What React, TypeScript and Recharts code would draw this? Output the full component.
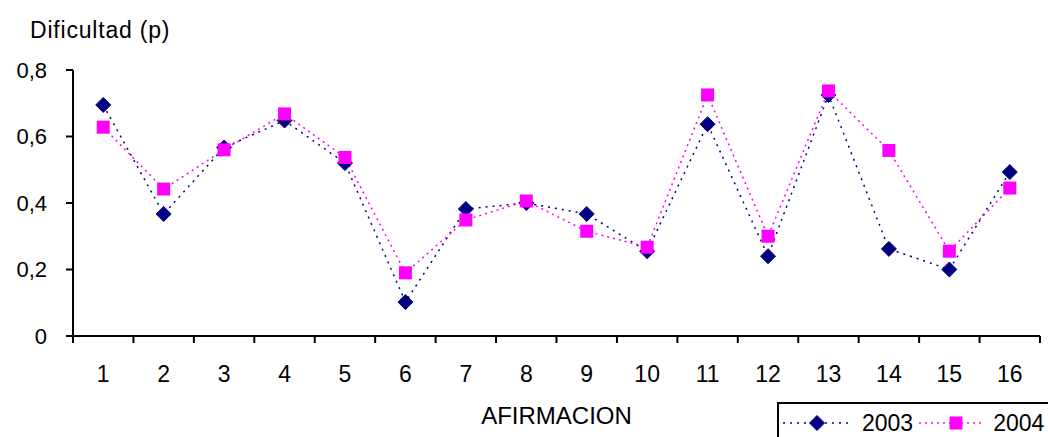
import React from 'react';
import { LineChart, Line, XAxis, YAxis, ReferenceLine } from 'recharts';

const categories = [1, 2, 3, 4, 5, 6, 7, 8, 9, 10, 11, 12, 13, 14, 15, 16];
const values2003 = [0.695, 0.367, 0.567, 0.648, 0.52, 0.102, 0.382, 0.4, 0.367, 0.255, 0.637, 0.24, 0.725, 0.262, 0.2, 0.493];
const values2004 = [0.628, 0.442, 0.56, 0.668, 0.537, 0.19, 0.349, 0.406, 0.315, 0.267, 0.725, 0.3, 0.737, 0.558, 0.255, 0.445];
const yTicks = [0, 0.2, 0.4, 0.6, 0.8];
const boundaryTicks = [0.5, 1.5, 2.5, 3.5, 4.5, 5.5, 6.5, 7.5, 8.5, 9.5, 10.5, 11.5, 12.5, 13.5, 14.5, 15.5, 16.5];
const seriesNames = ['2003', '2004'];
const yTitle = 'Dificultad (p)';
const xTitle = 'AFIRMACION';

const data = categories.map((c, i) => ({ cat: c, s2003: values2003[i], s2004: values2004[i] }));

const NAVY = '#000080';
const PINK = '#ff00ff';
const FONT = '"Liberation Sans", Arial, sans-serif';

const Diamond = (props: any) => {
  const { cx, cy } = props;
  if (cx == null || cy == null) return null;
  const r = 7.5;
  return <path d={`M${cx},${cy - r}L${cx + r},${cy}L${cx},${cy + r}L${cx - r},${cy}Z`} fill={NAVY} stroke={NAVY} strokeWidth={1} />;
};

const Square = (props: any) => {
  const { cx, cy } = props;
  if (cx == null || cy == null) return null;
  const h = 6.5;
  return <rect x={cx - h} y={cy - h} width={2 * h} height={2 * h} fill={PINK} />;
};

const fmt = (v: number) => (v === 0 ? '0' : v.toFixed(1).replace('.', ','));

const XTick = (props: any) => {
  const { x, y, payload, width } = props;
  const step = width / categories.length;
  const v = payload.value;
  const label = v + 0.5;
  const hasLabel = categories.indexOf(label) >= 0;
  return (
    <g>
      <line x1={x} y1={y} x2={x} y2={y + 7} stroke="#000" strokeWidth={2} />
      {hasLabel && (
        <text x={x + step / 2} y={y + 46} textAnchor="middle" fontFamily={FONT} fontSize={23} fill="#000">
          {label}
        </text>
      )}
    </g>
  );
};

const LegendBox = () => (
  <div style={{ position: 'absolute', left: 777, top: 402, border: '2px solid #000', width: 300, height: 60, boxSizing: 'border-box', display: 'flex', alignItems: 'flex-start', paddingTop: 6, fontFamily: FONT, fontSize: 23, color: '#000', background: '#fff', whiteSpace: 'nowrap' }}>
    <svg width={70} height={26} style={{ marginLeft: 4, flexShrink: 0 }}>
      <line x1={0} y1={13} x2={67} y2={13} stroke={NAVY} strokeWidth={1.5} strokeDasharray="2 5" />
      <Diamond cx={34} cy={13} />
    </svg>
    <span style={{ marginLeft: 9, lineHeight: '26px' }}>{seriesNames[0]}</span>
    <svg width={68} height={26} style={{ marginLeft: 6, flexShrink: 0 }}>
      <line x1={0} y1={13} x2={66} y2={13} stroke={PINK} strokeWidth={1.5} strokeDasharray="2 4" />
      <Square cx={37} cy={13} />
    </svg>
    <span style={{ marginLeft: 6, lineHeight: '26px' }}>{seriesNames[1]}</span>
  </div>
);

const YTitle = (props: any) => {
  const vb = props.viewBox || { x: 0, y: 0 };
  return (
    <text x={vb.x + 30} y={vb.y - 32} fontFamily={FONT} fontSize={23} fill="#000" letterSpacing={0.8}>
      {yTitle}
    </text>
  );
};

export default function App() {
  return (
    <div style={{ position: 'absolute', left: 0, top: 0, width: 1048, height: 437, overflow: 'hidden', background: '#fff' }}>
      <LineChart width={1048} height={437} data={data} margin={{ top: 70, right: 8, left: 0, bottom: 61 }}>
        <XAxis
          dataKey="cat"
          type="number"
          domain={[0.5, 16.5]}
          ticks={boundaryTicks}
          interval={0}
          axisLine={false}
          tickLine={false}
          tickSize={0}
          tickMargin={0}
          height={40}
          tick={<XTick />}
          label={{ value: xTitle, position: 'insideBottom', offset: -48, fontFamily: FONT, fontSize: 24, fill: '#000' }}
        />
        <YAxis
          width={73}
          domain={[0, 0.8]}
          ticks={yTicks}
          tickFormatter={fmt}
          tickSize={7}
          tickMargin={19}
          stroke="#000"
          strokeWidth={2}
          axisLine
          tickLine
          tick={{ fontFamily: FONT, fontSize: 22, fill: '#000' }}
          label={{ content: YTitle }}
        />
        <ReferenceLine x={0.5} stroke="#000" strokeWidth={2} ifOverflow="visible" />
        <ReferenceLine y={0} stroke="#000" strokeWidth={2} ifOverflow="visible" />
        <Line type="linear" dataKey="s2003" name={seriesNames[0]} stroke={NAVY} strokeWidth={1.5} strokeDasharray="2 5" dot={<Diamond />} activeDot={false} isAnimationActive={false} />
        <Line type="linear" dataKey="s2004" name={seriesNames[1]} stroke={PINK} strokeWidth={1.5} strokeDasharray="2 4" dot={<Square />} activeDot={false} isAnimationActive={false} />
      </LineChart>
      <LegendBox />
    </div>
  );
}
